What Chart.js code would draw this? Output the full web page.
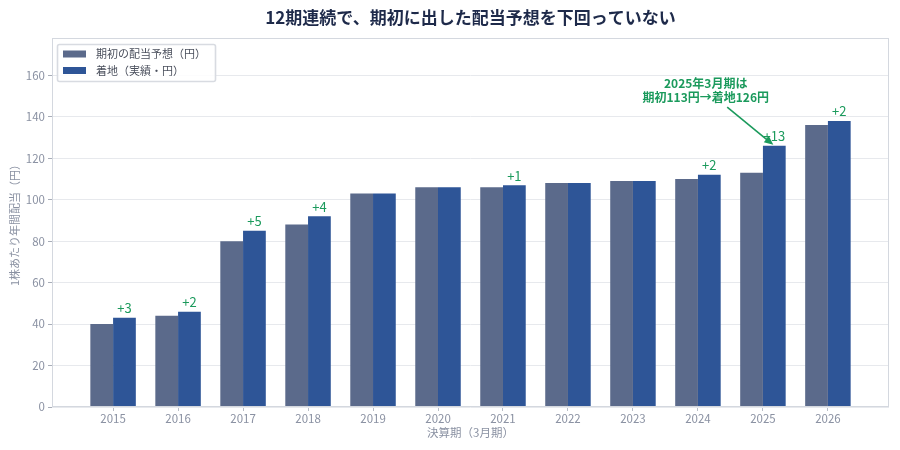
<!DOCTYPE html>
<html><head><meta charset="utf-8">
<script src="https://cdn.jsdelivr.net/npm/chart.js@4.4.1/dist/chart.umd.min.js"></script>
<style>html,body{margin:0;padding:0;background:#fff}</style>
</head><body>
<canvas id="c" width="900" height="450"></canvas>
<script>
const categories = ['2015','2016','2017','2018','2019','2020','2021','2022','2023','2024','2025','2026'];
const forecast = [40,44,80,88,103,106,106,108,109,110,113,136];
const actual   = [43,46,85,92,103,106,107,108,109,112,126,138];
const seriesNames = ['期初の配当予想（円）','着地（実績・円）'];
const titleText = '12期連続で、期初に出した配当予想を下回っていない';
const annotationLines = ['2025年3月期は','期初113円→着地126円'];

const FONT = "'Noto Sans CJK JP','Noto Sans',sans-serif";
const GRAY = '#5b6a8b', BLUE = '#2e5597', GREEN = '#1b9a5c', TXT = '#8a91a2';
Chart.defaults.font.family = FONT;

const extras = {
  id: 'extras',
  afterDatasetsDraw(chart) {
    const ctx = chart.ctx;
    const meta = chart.getDatasetMeta(1);
    ctx.save();
    ctx.fillStyle = GREEN;
    ctx.font = '13px ' + FONT;
    ctx.textAlign = 'center';
    ctx.textBaseline = 'bottom';
    actual.forEach((v, i) => {
      const d = v - forecast[i];
      if (d <= 0) return;
      const bar = meta.data[i];
      ctx.fillText('+' + d, bar.x, bar.y - 3);
    });
    ctx.restore();
  },
  afterDraw(chart) {
    const ctx = chart.ctx, a = chart.chartArea;
    const xs = chart.scales.x, ys = chart.scales.y;
    ctx.save();
    // frame
    ctx.strokeStyle = '#d4d8df';
    ctx.lineWidth = 1;
    ctx.strokeRect(a.left + 0.5, a.top + 0.5, a.right - a.left - 1, a.bottom - a.top - 1);
    // annotation
    ctx.fillStyle = GREEN;
    ctx.font = 'bold 12px ' + FONT;
    ctx.textAlign = 'center';
    ctx.textBaseline = 'middle';
    const tx = xs.getPixelForValue(9.12);
    ctx.fillText(annotationLines[0], tx, ys.getPixelForValue(156));
    ctx.fillText(annotationLines[1], tx, ys.getPixelForValue(149.3));
    const bar = chart.getDatasetMeta(1).data[10];
    const x0 = xs.getPixelForValue(9.45), y0 = ys.getPixelForValue(144.6);
    const x1 = bar.x - 1, y1 = bar.y - 1;
    const ang = Math.atan2(y1 - y0, x1 - x0);
    ctx.strokeStyle = GREEN;
    ctx.lineWidth = 1.6;
    ctx.beginPath();
    ctx.moveTo(x0, y0);
    ctx.lineTo(x1 - 6 * Math.cos(ang), y1 - 6 * Math.sin(ang));
    ctx.stroke();
    ctx.beginPath();
    ctx.moveTo(x1, y1);
    ctx.lineTo(x1 - 9 * Math.cos(ang) + 4 * Math.sin(ang), y1 - 9 * Math.sin(ang) - 4 * Math.cos(ang));
    ctx.lineTo(x1 - 9 * Math.cos(ang) - 4 * Math.sin(ang), y1 - 9 * Math.sin(ang) + 4 * Math.cos(ang));
    ctx.closePath();
    ctx.fill();
    // legend
    const lx = a.left + 5, ly = a.top + 6, lw = 158, lh = 37;
    ctx.fillStyle = 'rgba(255,255,255,0.85)';
    ctx.strokeStyle = '#d8dbe1';
    ctx.beginPath();
    ctx.roundRect(lx + 0.5, ly + 0.5, lw, lh, 2);
    ctx.fill();
    ctx.stroke();
    const cols = [GRAY, BLUE];
    ctx.font = '11px ' + FONT;
    ctx.textAlign = 'left';
    ctx.textBaseline = 'middle';
    seriesNames.forEach((n, i) => {
      const cy = ly + 10 + i * 16.5;
      ctx.fillStyle = cols[i];
      ctx.fillRect(lx + 6, cy - 3.5, 23, 7);
      ctx.fillStyle = '#4a4f5c';
      ctx.fillText(n, lx + 39, cy);
    });
    ctx.restore();
  }
};

new Chart(document.getElementById('c'), {
  type: 'bar',
  data: {
    datasets: [
      { label: seriesNames[0], data: forecast.map((v, i) => ({x: i, y: v})), backgroundColor: GRAY, categoryPercentage: 0.7, barPercentage: 1.0 },
      { label: seriesNames[1], data: actual.map((v, i) => ({x: i, y: v})), backgroundColor: BLUE, categoryPercentage: 0.7, barPercentage: 1.0 }
    ]
  },
  options: {
    responsive: false,
    animation: false,
    layout: { padding: { left: 0, right: 11, top: 0, bottom: 0 } },
    plugins: {
      legend: { display: false },
      tooltip: { enabled: false },
      title: {
        display: true, text: titleText, fullSize: false, color: '#1e2a4a',
        font: { size: 17, weight: 'bold', family: FONT },
        padding: { top: 7, bottom: 10.6 }
      }
    },
    scales: {
      x: {
        type: 'linear', min: -0.94, max: 11.94, offset: false,
        grid: { display: true, offset: false, drawOnChartArea: false, drawTicks: true, tickLength: 4, tickColor: '#b8bdc6' },
        border: { display: false },
        ticks: { stepSize: 1, includeBounds: false, autoSkip: false, maxRotation: 0, padding: 1, color: TXT, font: { size: 11.5 },
          callback: (v) => categories[v] !== undefined ? categories[v] : '' },
        title: { display: true, text: '決算期（3月期）', color: TXT, font: { size: 11.5 }, padding: { top: 0, bottom: 10 } },
        afterFit(s) { s.height = 43; }
      },
      y: {
        min: 0, max: 178,
        grid: { color: '#e7e9ed', tickLength: 4, drawTicks: true, tickColor: '#a8adb8' },
        border: { display: false },
        ticks: { stepSize: 20, includeBounds: false, padding: 3, color: TXT, font: { size: 11.5 } },
        title: { display: true, text: '1株あたり年間配当（円）', color: TXT, font: { size: 11 }, padding: { top: 8, bottom: 0 } },
        afterFit(s) { s.width = 52; }
      }
    }
  },
  plugins: [extras]
});
</script>
</body></html>
